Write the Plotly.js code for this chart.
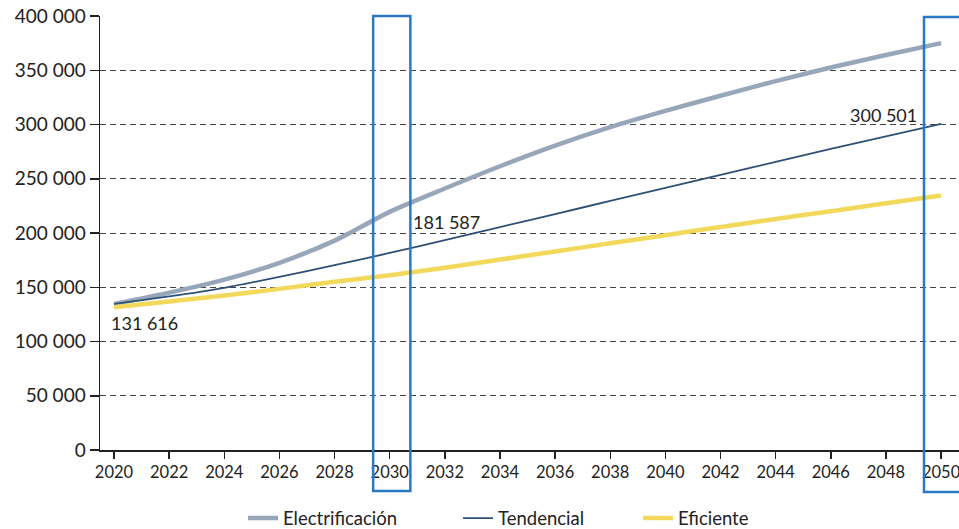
<!DOCTYPE html>
<html>
<head>
<meta charset="utf-8">
<script src="https://cdn.plot.ly/plotly-3.0.1.min.js"></script>
<style>
  html, body { margin: 0; padding: 0; background: #ffffff; }
  #chart { width: 959px; height: 529px; }
</style>
</head>
<body>
<div id="chart"></div>
<script>
// Demand scenarios, 2020-2050
const years = [2020, 2022, 2024, 2026, 2028, 2030, 2032, 2034, 2036, 2038, 2040, 2042, 2044, 2046, 2048, 2050];
const electrificacion = [134500, 145000, 157000, 172500, 193000, 219500, 241000, 261500, 280500, 297500, 312500, 326500, 340000, 352500, 364000, 375000];
const tendencial = [134500, 141500, 149500, 159500, 170300, 181587, 193500, 205500, 217500, 229500, 241500, 253500, 265500, 277500, 289000, 300501];
const eficiente = [131616, 136800, 142500, 148500, 155000, 161000, 168000, 175500, 183000, 190500, 198000, 205500, 213000, 220000, 227500, 234500];
const seriesNames = ['Electrificación', 'Tendencial', 'Eficiente'];
const yTicks = [0, 50000, 100000, 150000, 200000, 250000, 300000, 350000, 400000];
const highlightYears = [2030, 2050];

const FONT = 'Lato, "Noto Sans", sans-serif';
const TEXT = '#222222';

function fmt(v) {
  return String(v).replace(/\B(?=(\d{3})+(?!\d))/g, ' ');
}

const traces = [
  { x: years, y: electrificacion, name: seriesNames[0], legend: 'legend',
    line: { color: '#97a7b9', width: 4.5, shape: 'spline', smoothing: 0.8 } },
  { x: years, y: tendencial, name: seriesNames[1], legend: 'legend2',
    line: { color: '#2f5075', width: 1.8, shape: 'spline', smoothing: 0.8 } },
  { x: years, y: eficiente, name: seriesNames[2], legend: 'legend3',
    line: { color: '#f2d95c', width: 4.5, shape: 'spline', smoothing: 0.8 } }
].map(t => Object.assign({ type: 'scatter', mode: 'lines', hoverinfo: 'skip' }, t));

const i2030 = years.indexOf(highlightYears[0]);
const iLast = years.length - 1;

const annotations = [
  { x: years[0], y: eficiente[0], text: fmt(eficiente[0]), xanchor: 'left', yanchor: 'middle', xshift: -5, yshift: -16 },
  { x: years[i2030], y: tendencial[i2030], text: fmt(tendencial[i2030]), xanchor: 'left', yanchor: 'middle', xshift: 21, yshift: 31 },
  { x: years[iLast], y: tendencial[iLast], text: fmt(tendencial[iLast]), xanchor: 'right', yanchor: 'middle', xshift: -22, yshift: 9 }
].map(a => Object.assign({ xref: 'x', yref: 'y', showarrow: false, font: { family: FONT, size: 18, color: TEXT } }, a));

// Frames marking the milestone years
const frame = { type: 'rect', xref: 'x', yref: 'paper', line: { color: '#2b79c4', width: 2.5 }, fillcolor: 'rgba(0,0,0,0)' };
const shapes = [
  Object.assign({}, frame, { x0: highlightYears[0] - 0.6, x1: highlightYears[0] + 0.75, y0: -0.0945, y1: 1 }),
  Object.assign({}, frame, { x0: highlightYears[1] - 0.62, x1: highlightYears[1] + 0.8, y0: -0.0968, y1: 0.9977 })
];

const legendBase = { orientation: 'h', yanchor: 'middle', y: -0.158, xanchor: 'left',
  bgcolor: 'rgba(0,0,0,0)', borderwidth: 0, font: { family: FONT, size: 18.5, color: TEXT } };

const layout = {
  width: 959, height: 529,
  margin: { l: 100, r: 0, t: 16, b: 79, autoexpand: false },
  paper_bgcolor: '#ffffff', plot_bgcolor: '#ffffff',
  separators: ', ',
  font: { family: FONT, color: TEXT },
  showlegend: true,
  legend: Object.assign({}, legendBase, { x: 0.1665 }),
  legend2: Object.assign({}, legendBase, { x: 0.4168 }),
  legend3: Object.assign({}, legendBase, { x: 0.6263 }),
  xaxis: {
    range: [2019.492, 2050.65],
    tickmode: 'linear', tick0: 2020, dtick: 2, tickformat: 'd',
    ticks: 'outside', ticklen: 7, tickwidth: 1.5, tickcolor: '#222',
    showline: true, linecolor: '#222', linewidth: 1.5,
    showgrid: false, zeroline: false,
    ticklabeloverflow: 'allow',
    tickfont: { family: FONT, size: 16.5, color: TEXT }
  },
  yaxis: {
    range: [0, 400000],
    tickmode: 'array', tickvals: yTicks, tickformat: ',',
    ticks: 'outside', ticklen: 9, tickwidth: 1.5, tickcolor: '#222',
    showline: true, linecolor: '#222', linewidth: 1.5,
    showgrid: true, gridcolor: '#444', gridwidth: 1, griddash: '6px,4px',
    zeroline: false,
    tickfont: { family: FONT, size: 19, color: TEXT }
  },
  annotations: annotations,
  shapes: shapes
};

Plotly.newPlot('chart', traces, layout, { staticPlot: true, displayModeBar: false });
</script>
</body>
</html>
